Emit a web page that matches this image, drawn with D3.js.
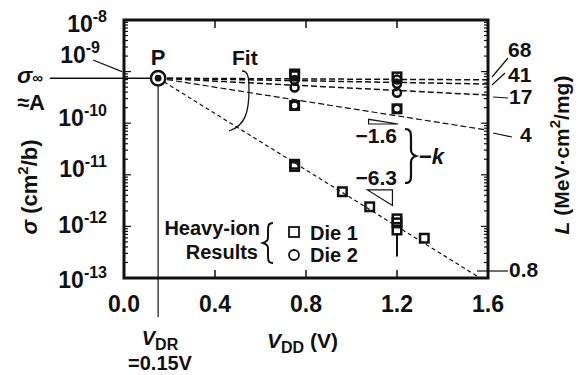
<!DOCTYPE html>
<html>
<head>
<meta charset="utf-8">
<script src="https://cdn.jsdelivr.net/npm/d3@7"></script>
<style>
  html, body { margin: 0; padding: 0; background: #fff; }
  svg { display: block; }
  text { font-family: "Liberation Sans", Arial, Helvetica, sans-serif; font-weight: bold; fill: #111; }
</style>
</head>
<body>
<svg id="chart" width="587" height="375"></svg>
<script>
// ---- data ----
const xTickValues = [0.0, 0.4, 0.8, 1.2, 1.6];
const xTickLabels = ["0.0", "0.4", "0.8", "1.2", "1.6"];
const yDecadeExponents = [-8, -9, -10, -11, -12, -13];

const VDR = 0.15;          // retention voltage (V)
const sigmaInf = 7.45e-10; // saturated cross section A (cm^2/b)

// fit lines sigma = A * exp(-k (VDD - VDR)), one per LET
const letLabels = ["68", "41", "17", "4", "0.8"];
const fitK = [0.05, 0.18, 0.52, 1.6, 6.3];

// Die 1 heavy-ion results (squares)
const die1V     = [0.75, 0.75, 0.75, 0.75, 0.75, 0.96, 1.08, 1.2, 1.2, 1.2, 1.2, 1.2, 1.32];
const die1Sigma = [9.0e-10, 8.3e-10, 2.2e-10, 1.6e-11, 1.45e-11, 4.7e-12, 2.4e-12, 7.9e-10, 1.9e-10, 1.4e-12, 1.17e-12, 8.5e-13, 5.9e-13];

// Die 2 heavy-ion results (circles)
const die2V     = [0.75, 0.75, 0.75, 1.2, 1.2, 1.2, 1.2];
const die2Sigma = [6.9e-10, 4.9e-10, 2.2e-10, 7.0e-10, 5.8e-10, 3.9e-10, 1.9e-10];

// error bar on the lowest Die 1 point at 1.2 V
const errV = [1.2];
const errHigh = [8.5e-13];
const errLow = [2.6e-13];

// slope annotations (-k)
const slopeLabels = ["\u22121.6", "\u22126.3"];
const slopeK = [1.6, 6.3];

// ---- layout ----
const svg = d3.select("#chart");
const plotL = 124, plotR = 488, plotT = 20, plotB = 278;

const x = d3.scaleLinear().domain([0, 1.6]).range([plotL, plotR]);
const y = d3.scaleLog().domain([1e-13, 1e-8]).range([plotB, plotT]);
const fitSigma = (k, v) => sigmaInf * Math.exp(-k * (v - VDR));

svg.append("defs").append("clipPath").attr("id", "plotClip")
  .append("rect").attr("x", plotL).attr("y", plotT)
  .attr("width", plotR - plotL).attr("height", plotB - plotT);

// ---- log axes (ticks inward on both sides) ----
const yMinor = [];
for (let e = -13; e < -8; e++) for (let m = 1; m < 10; m++) yMinor.push(m * Math.pow(10, e));
yMinor.push(1e-8);
function isDecade(d) { const l = Math.log10(d); return Math.abs(l - Math.round(l)) < 1e-6; }

const yTicksG = svg.append("g");
yTicksG.selectAll("line.l").data(yMinor).join("line").attr("class", "l")
  .attr("x1", plotL).attr("x2", d => plotL + (isDecade(d) ? 7 : 4))
  .attr("y1", d => y(d)).attr("y2", d => y(d))
  .attr("stroke", "#111").attr("stroke-width", 1.2);
yTicksG.selectAll("line.r").data(yMinor).join("line").attr("class", "r")
  .attr("x1", plotR).attr("x2", d => plotR - (isDecade(d) ? 7 : 4))
  .attr("y1", d => y(d)).attr("y2", d => y(d))
  .attr("stroke", "#111").attr("stroke-width", 1.2);

// x ticks on bottom and top, pointing inward
const innerX = xTickValues.slice(1, -1);
svg.append("g").selectAll("line").data(innerX).join("line")
  .attr("x1", d => x(d)).attr("x2", d => x(d))
  .attr("y1", plotB).attr("y2", plotB - 8)
  .attr("stroke", "#111").attr("stroke-width", 1.5);
svg.append("g").selectAll("line").data(innerX).join("line")
  .attr("x1", d => x(d)).attr("x2", d => x(d))
  .attr("y1", plotT).attr("y2", plotT + 8)
  .attr("stroke", "#111").attr("stroke-width", 1.5);

// x tick labels
svg.append("g").selectAll("text").data(xTickValues).join("text")
  .attr("x", d => x(d)).attr("y", 312)
  .attr("text-anchor", "middle").attr("font-size", 23)
  .text((d, i) => xTickLabels[i]);

// y tick labels 10^n (individually nudged)
const yLabelShift = [12, -9, 3, 2, 7, 10];
const yLab = svg.append("g").selectAll("text").data(yDecadeExponents).join("text")
  .attr("x", (d, i) => i === 1 ? 100 : 107)
  .attr("y", (d, i) => y(Math.pow(10, d)) + yLabelShift[i])
  .attr("text-anchor", "end").attr("font-size", 23);
yLab.append("tspan").text("10");
yLab.append("tspan").attr("font-size", 16).attr("dy", -10).text(d => "-" + Math.abs(d));

// leader from the 10^-9 label to its tick
svg.append("line").attr("x1", 93).attr("y1", 60).attr("x2", 122).attr("y2", y(1e-9))
  .attr("stroke", "#111").attr("stroke-width", 1.2);

// ---- fit lines ----
const fitG = svg.append("g").attr("clip-path", "url(#plotClip)");
fitK.forEach((k, i) => {
  const pts = d3.range(0, 41).map(j => VDR + j * (1.6 - VDR) / 40);
  fitG.append("path")
    .datum(pts)
    .attr("d", d3.line().x(v => x(v)).y(v => y(fitSigma(k, v))))
    .attr("fill", "none").attr("stroke", "#111")
    .attr("stroke-width", i < 3 ? 1.5 : 1.2)
    .attr("stroke-dasharray", i < 4 ? "6,3" : "4,3");
});

// ---- data markers ----
const sq = 8.5;
svg.append("g").selectAll("rect").data(die1V.map((v, i) => [v, die1Sigma[i]])).join("rect")
  .attr("x", d => x(d[0]) - sq / 2).attr("y", d => y(d[1]) - sq / 2)
  .attr("width", sq).attr("height", sq)
  .attr("fill", "none").attr("stroke", "#111").attr("stroke-width", 2.5);

svg.append("g").selectAll("circle").data(die2V.map((v, i) => [v, die2Sigma[i]])).join("circle")
  .attr("cx", d => x(d[0])).attr("cy", d => y(d[1])).attr("r", 4)
  .attr("fill", "none").attr("stroke", "#111").attr("stroke-width", 2.5);

// error bar
svg.append("g").selectAll("line").data(errV).join("line")
  .attr("x1", d => x(d)).attr("x2", d => x(d))
  .attr("y1", (d, i) => y(errHigh[i]) + sq / 2).attr("y2", (d, i) => y(errLow[i]))
  .attr("stroke", "#111").attr("stroke-width", 2);

// ---- point P and guide lines ----
svg.append("line").attr("x1", 50).attr("x2", x(VDR)).attr("y1", y(sigmaInf)).attr("y2", y(sigmaInf))
  .attr("stroke", "#111").attr("stroke-width", 1.4);
svg.append("line").attr("x1", x(VDR)).attr("x2", x(VDR)).attr("y1", y(sigmaInf)).attr("y2", 317)
  .attr("stroke", "#444").attr("stroke-width", 1.5);
svg.append("circle").attr("cx", x(VDR)).attr("cy", y(sigmaInf)).attr("r", 7.2)
  .attr("fill", "#fff").attr("stroke", "#111").attr("stroke-width", 2.5);
svg.append("circle").attr("cx", x(VDR)).attr("cy", y(sigmaInf)).attr("r", 3.4).attr("fill", "#111");

// ---- frame ----
svg.append("rect").attr("x", plotL).attr("y", plotT)
  .attr("width", plotR - plotL).attr("height", plotB - plotT)
  .attr("fill", "none").attr("stroke", "#111").attr("stroke-width", 3);

// ---- annotations ----
svg.append("text").attr("x", x(VDR)).attr("y", 65).attr("text-anchor", "middle")
  .attr("font-size", 22).text("P");
svg.append("text").attr("x", 232).attr("y", 65).attr("font-size", 21).text("Fit");
svg.append("path").attr("d", "M242,71 C248,71 249,77 249,90 C249,112 245,126 229,131")
  .attr("fill", "none").attr("stroke", "#111").attr("stroke-width", 1.3);

// sigma-infinity label
const sInf = svg.append("text").attr("x", 17).attr("y", 83).attr("font-size", 23);
sInf.append("tspan").attr("font-style", "italic").text("\u03c3");
sInf.append("tspan").attr("font-size", 15).attr("dy", 0).text("\u221e");
svg.append("text").attr("x", 17).attr("y", 110).attr("font-size", 22).text("\u2248A");

// LET labels with leaders at right edge
const letLeader = [
  [[492, 77], [508, 58], [508, 57]],
  [[492, 85], [505, 73], [508, 82]],
  [[493, 97], [508, 98], [509, 104]],
  [[493, 133], [512, 137], [520, 142]],
  [[477, 271], [508, 271], [509, 277]]
];
letLabels.forEach((lab, i) => {
  const [p1, p2, t] = letLeader[i];
  svg.append("line").attr("x1", p1[0]).attr("y1", p1[1]).attr("x2", p2[0]).attr("y2", p2[1])
    .attr("stroke", "#111").attr("stroke-width", 1.2);
  svg.append("text").attr("x", t[0]).attr("y", t[1]).attr("font-size", 21).text(lab);
});

// slope triangles for -k
const tri1V = [1.075, 1.205], tri1S = 9.66e-11;
const a1 = x(tri1V[0]), b1 = x(tri1V[1]), yb1 = y(tri1S);
const h1 = yb1 - y(tri1S * Math.exp(slopeK[0] * (tri1V[1] - tri1V[0])));
svg.append("path").attr("d", `M${a1},${yb1 - h1} L${a1},${yb1} L${b1},${yb1} Z`)
  .attr("fill", "#fff").attr("stroke", "#111").attr("stroke-width", 1.2);

const tri2V = [1.07, 1.18], tri2S = 5.1e-12;
const a2 = x(tri2V[0]), b2 = x(tri2V[1]), yt2 = y(tri2S);
const h2 = y(tri2S * Math.exp(-slopeK[1] * (tri2V[1] - tri2V[0]))) - yt2;
svg.append("path").attr("d", `M${a2},${yt2} L${b2},${yt2} L${b2},${yt2 + h2} Z`)
  .attr("fill", "#fff").attr("stroke", "#111").attr("stroke-width", 1.2);

svg.append("text").attr("x", 397).attr("y", 143).attr("text-anchor", "end")
  .attr("font-size", 21).text(slopeLabels[0]);
svg.append("text").attr("x", 397).attr("y", 185).attr("text-anchor", "end")
  .attr("font-size", 21).text(slopeLabels[1]);
svg.append("path").attr("d", "M405,129 C411,129 411,133 411,139 L411,150 C411,153 413,155 416,156 C413,157 411,159 411,162 L411,174 C411,180 411,183 405,183")
  .attr("fill", "none").attr("stroke", "#111").attr("stroke-width", 2.2);
const kLab = svg.append("text").attr("x", 419).attr("y", 164).attr("font-size", 22);
kLab.append("tspan").text("\u2212");
kLab.append("tspan").attr("font-style", "italic").text("k");

// legend
svg.append("text").attr("x", 260).attr("y", 235).attr("text-anchor", "end").attr("font-size", 20).text("Heavy-ion");
svg.append("text").attr("x", 258).attr("y", 259).attr("text-anchor", "end").attr("font-size", 20).text("Results");
svg.append("path").attr("d", "M273,223 C268,223 268,226 268,231 L268,238 C268,241 266,242 263,243 C266,244 268,245 268,248 L268,255 C268,260 268,263 273,263")
  .attr("fill", "none").attr("stroke", "#111").attr("stroke-width", 2);
svg.append("rect").attr("x", 289).attr("y", 227).attr("width", 10).attr("height", 10)
  .attr("fill", "none").attr("stroke", "#111").attr("stroke-width", 1.8);
svg.append("text").attr("x", 310).attr("y", 240).attr("font-size", 20).text("Die 1");
svg.append("circle").attr("cx", 294).attr("cy", 255).attr("r", 5)
  .attr("fill", "none").attr("stroke", "#111").attr("stroke-width", 1.8);
svg.append("text").attr("x", 310).attr("y", 262).attr("font-size", 20).text("Die 2");

// axis titles
const xt = svg.append("text").attr("x", 267).attr("y", 348).attr("font-size", 21);
xt.append("tspan").attr("font-style", "italic").text("V");
xt.append("tspan").attr("font-size", 16).attr("dy", 5).text("DD");
xt.append("tspan").attr("dy", -5).text(" (V)");

const vdr = svg.append("text").attr("x", 160).attr("y", 345).attr("text-anchor", "middle").attr("font-size", 20);
vdr.append("tspan").attr("font-style", "italic").text("V");
vdr.append("tspan").attr("font-size", 16).attr("dy", 5).text("DR");
svg.append("text").attr("x", 160).attr("y", 370).attr("text-anchor", "middle").attr("font-size", 20).text("=0.15V");

const yt = svg.append("text").attr("transform", "translate(37,187) rotate(-90)")
  .attr("text-anchor", "middle").attr("font-size", 22);
yt.append("tspan").attr("font-style", "italic").text("\u03c3");
yt.append("tspan").text(" (cm");
yt.append("tspan").attr("font-size", 15).attr("dy", -9).text("2");
yt.append("tspan").attr("dy", 9).text("/b)");

const rt = svg.append("text").attr("transform", "translate(569,155) rotate(-90)")
  .attr("text-anchor", "middle").attr("font-size", 21);
rt.append("tspan").attr("font-style", "italic").text("L");
rt.append("tspan").text(" (MeV\u00b7cm");
rt.append("tspan").attr("font-size", 15).attr("dy", -9).text("2");
rt.append("tspan").attr("dy", 9).text("/mg)");
</script>
</body>
</html>
